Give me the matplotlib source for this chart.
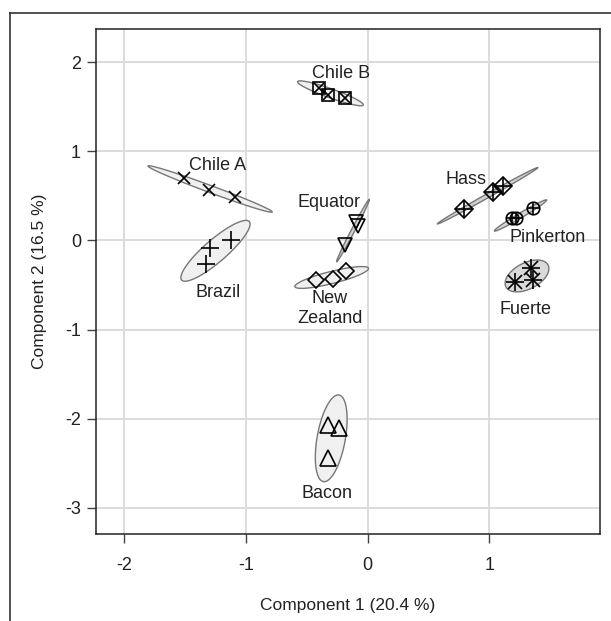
import numpy as np
import matplotlib
matplotlib.use('Agg')
import matplotlib.pyplot as plt
from matplotlib.lines import Line2D
from matplotlib.patches import Polygon

plt.rcParams['font.family'] = ['Liberation Sans', 'DejaVu Sans']
plt.rcParams['axes.unicode_minus'] = False

# scores per cultivar (component 1, component 2)
chile_a_x = [-1.507, -1.304, -1.088]
chile_a_y = [0.698, 0.567, 0.492]
chile_b_x = [-0.403, -0.329, -0.187]
chile_b_y = [1.708, 1.633, 1.596]
equator_x = [-0.099, -0.080, -0.187]
equator_y = [0.202, 0.163, -0.051]
brazil_x = [-1.124, -1.296, -1.331]
brazil_y = [0.006, -0.088, -0.264]
nz_x = [-0.425, -0.288, -0.178]
nz_y = [-0.443, -0.435, -0.342]
bacon_x = [-0.324, -0.233, -0.329]
bacon_y = [-2.071, -2.101, -2.444]
hass_x = [0.794, 1.032, 1.115]
hass_y = [0.354, 0.548, 0.612]
pinkerton_x = [1.182, 1.219, 1.356]
pinkerton_y = [0.249, 0.249, 0.368]
fuerte_x = [1.341, 1.211, 1.361]
fuerte_y = [-0.305, -0.462, -0.443]

# confidence ellipses: centre, semi-major axis tip offset, minor/major ratio
ell_names = ['Chile A', 'Chile B', 'Equator', 'Brazil', 'New\nZealand',
             'Bacon', 'Hass', 'Pinkerton', 'Fuerte']
ell_cx = [-1.295, -0.306, -0.121, -1.251, -0.296, -0.300, 0.985, 1.256, 1.309]
ell_cy = [0.578, 1.652, 0.112, -0.116, -0.415, -2.220, 0.502, 0.281, -0.398]
ell_ax = [0.510, 0.270, 0.134, 0.278, 0.302, 0.064, 0.413, 0.215, 0.173]
ell_ay = [-0.258, -0.131, 0.350, 0.328, 0.103, 0.486, 0.316, 0.174, 0.123]
ell_ratio = [0.053, 0.13, 0.05, 0.25, 0.16, 0.32, 0.035, 0.08, 0.55]
ell_fill = ['#f0f0f0', '#f0f0f0', '#d0d0d0', '#f0f0f0', '#f0f0f0',
            '#f0f0f0', '#d0d0d0', '#d6d6d6', '#dadada']

# label positions
label_x = [-1.233, -0.219, -0.316, -1.228, -0.310, -0.337, 0.808, 1.478, 1.293]
label_y = [0.847, 1.877, 0.429, -0.586, -0.765, -2.837, 0.687, 0.028, -0.780]

fig = plt.figure(figsize=(6.11, 6.21), dpi=100)
ax = fig.add_axes([0.1566, 0.1401, 0.9820 - 0.1566, 0.9525 - 0.1401])
ax.set_xlim(-2.2356, 1.909)
ax.set_ylim(-3.294, 2.368)
ax.set_xticks([-2, -1, 0, 1])
ax.set_yticks([-3, -2, -1, 0, 1, 2])
ax.grid(True, color='#dcdcdc', lw=1.4)
ax.set_axisbelow(True)
for s in ax.spines.values():
    s.set_color('#222222')
    s.set_linewidth(1.1)
ax.tick_params(direction='out', length=6.5, width=1, color='#444444',
               labelsize=13, labelcolor='#222222')
ax.tick_params(axis='x', pad=10)
ax.tick_params(axis='y', pad=4)
ax.set_xlabel('Component 1 (20.4 %)', fontsize=12.5, color='#222222', labelpad=17)
ax.set_ylabel('Component 2 (16.5 %)', fontsize=12.5, color='#222222', labelpad=13)

# ellipses built in pixel space so the minor axis stays perpendicular
t = np.linspace(0, 2 * np.pi, 200)
to_px = ax.transData
to_data = ax.transData.inverted()
for i in range(len(ell_names)):
    c = to_px.transform((ell_cx[i], ell_cy[i]))
    tip = to_px.transform((ell_cx[i] + ell_ax[i], ell_cy[i] + ell_ay[i]))
    a = tip - c
    b = np.array([-a[1], a[0]]) * ell_ratio[i]
    pts = c + np.outer(np.cos(t), a) + np.outer(np.sin(t), b)
    poly = Polygon(to_data.transform(pts), closed=True, facecolor=ell_fill[i],
                   edgecolor='#777777', lw=1.0, zorder=2)
    ax.add_patch(poly)

mk = dict(ls='none', color='black', mfc='none', mew=1.2, zorder=3)
ax.plot(chile_a_x, chile_a_y, marker='x', ms=9, **mk)
ax.plot(chile_b_x, chile_b_y, marker='s', ms=8.5, **mk)
ax.plot(chile_b_x, chile_b_y, marker='x', ms=7, **mk)
ax.plot(equator_x, equator_y, marker='v', ms=10, **mk)
ax.plot(brazil_x, brazil_y, marker='+', ms=13, **mk)
ax.plot(nz_x, nz_y, marker='D', ms=8.5, **mk)
ax.plot(bacon_x, bacon_y, marker='^', ms=12, **mk)
ax.plot(hass_x, hass_y, marker='D', ms=9, **mk)
ax.plot(hass_x, hass_y, marker='+', ms=11, **mk)
ax.plot(pinkerton_x, pinkerton_y, marker='o', ms=9, **mk)
ax.plot(pinkerton_x, pinkerton_y, marker='+', ms=9, **mk)
ax.plot(fuerte_x, fuerte_y, marker='+', ms=13, **mk)
ax.plot(fuerte_x, fuerte_y, marker='x', ms=10, **mk)

for i in range(len(ell_names)):
    ax.text(label_x[i], label_y[i], ell_names[i], fontsize=13, color='#222222',
            ha='center', va='center', linespacing=1.2, zorder=4)

# outer frame (top and left edges of the surrounding box)
fig.add_artist(Line2D([10 / 611, 1], [1 - 12.7 / 621] * 2, transform=fig.transFigure,
                      color='#333333', lw=1.2))
fig.add_artist(Line2D([10 / 611] * 2, [0, 1 - 12.7 / 621], transform=fig.transFigure,
                      color='#333333', lw=1.2))

fig.savefig('out.png', dpi=100)
